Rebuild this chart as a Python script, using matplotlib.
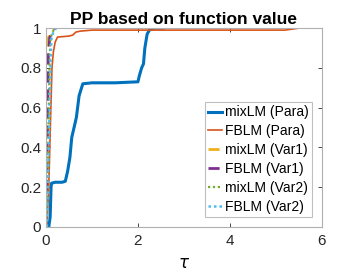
import numpy as np
import matplotlib.pyplot as plt

plt.rcParams['font.family'] = ['Liberation Sans', 'DejaVu Sans']

# ── Data (performance profiles) ───────────────────────────────
tau_mix_para = [0.06, 0.09, 0.11, 0.12, 0.2, 0.35, 0.42, 0.47, 0.52, 0.56, 0.6, 0.66,
                0.72, 0.8, 1.0, 1.5, 2.0, 2.03, 2.08, 2.12, 2.15, 2.2, 2.25, 2.35, 2.55]
rho_mix_para = [0, 0.05, 0.2, 0.22, 0.225, 0.225, 0.23, 0.28, 0.35, 0.45, 0.49, 0.55,
                0.66, 0.72, 0.725, 0.725, 0.73, 0.76, 0.8, 0.82, 0.9, 0.97, 0.99, 1.0, 1.0]

tau_fb_para = [0.02, 0.06, 0.1, 0.13, 0.16, 0.2, 0.25, 0.5, 0.58, 0.65, 0.75, 1.0, 2.0,
               5.2, 5.35, 5.5]
rho_fb_para = [0, 0.2, 0.55, 0.8, 0.88, 0.93, 0.955, 0.96, 0.965, 0.98, 0.985, 0.99,
               0.99, 0.99, 0.995, 1.0]

tau_mix_var1 = [0, 0.01, 0.02, 0.03, 0.05, 0.1, 0.15]
rho_mix_var1 = [0, 0.3, 0.6, 0.85, 0.95, 0.98, 1.0]

tau_fb_var1 = [0, 0.02, 0.04, 0.05, 0.08, 0.12, 0.18]
rho_fb_var1 = [0, 0.3, 0.6, 0.85, 0.95, 0.98, 1.0]

tau_mix_var2 = [0.01, 0.04, 0.06, 0.08, 0.1, 0.14, 0.2]
rho_mix_var2 = [0, 0.3, 0.6, 0.85, 0.95, 0.98, 1.0]

tau_fb_var2 = [0.02, 0.05, 0.08, 0.1, 0.12, 0.16, 0.22]
rho_fb_var2 = [0, 0.3, 0.6, 0.85, 0.95, 0.98, 1.0]

labels = ['mixLM (Para)', 'FBLM (Para)', 'mixLM (Var1)', 'FBLM (Var1)',
          'mixLM (Var2)', 'FBLM (Var2)']

# ── Figure ────────────────────────────────────────────────────
fig = plt.figure(figsize=(3.58, 2.73), dpi=100)
ax = fig.add_axes([0.1285, 0.1685, 0.7705, 0.7285])

ax.plot(tau_mix_para, rho_mix_para, color='#0072BD', lw=2.2, label=labels[0])
ax.plot(tau_fb_para, rho_fb_para, color='#D95319', lw=1.2, label=labels[1])
ax.plot(tau_mix_var1, rho_mix_var1, color='#EDB120', lw=2.0, ls=(0, (4, 2.5)), label=labels[2])
ax.plot(tau_fb_var1, rho_fb_var1, color='#7E2F8E', lw=2.0, ls=(0, (4, 2.5)), label=labels[3])
ax.plot(tau_mix_var2, rho_mix_var2, color='#77AC30', lw=1.6, ls=(0, (1, 1.2)), label=labels[4])
ax.plot(tau_fb_var2, rho_fb_var2, color='#4DBEEE', lw=1.8, ls=(0, (1, 1.2)), label=labels[5])

ax.set_xlim(0, 6)
ax.set_ylim(0, 1)
ax.set_xticks([0, 2, 4, 6])
ax.set_yticks([0, 0.2, 0.4, 0.6, 0.8, 1])
ax.set_yticklabels(['0', '0.2', '0.4', '0.6', '0.8', '1'])
ax.tick_params(direction='in', top=True, right=True, labelsize=11,
               colors='#262626', length=3, width=0.6)
ax.tick_params(axis='x', pad=5)
for s in ax.spines.values():
    s.set_color('#b0b0b0')
    s.set_linewidth(0.8)

ax.set_title('PP based on function value', fontsize=12.5, fontweight='bold', pad=3)
ax.set_xlabel(r'$\tau$', fontsize=12, labelpad=6)

leg = ax.legend(loc='lower right', fontsize=10, frameon=True, fancybox=False,
                handlelength=1.0, handletextpad=0.2, borderpad=0.25,
                labelspacing=0.35, borderaxespad=0.7)
leg.get_frame().set_edgecolor('#b0b0b0')
leg.get_frame().set_linewidth(0.8)

fig.savefig('out.png', dpi=100)
